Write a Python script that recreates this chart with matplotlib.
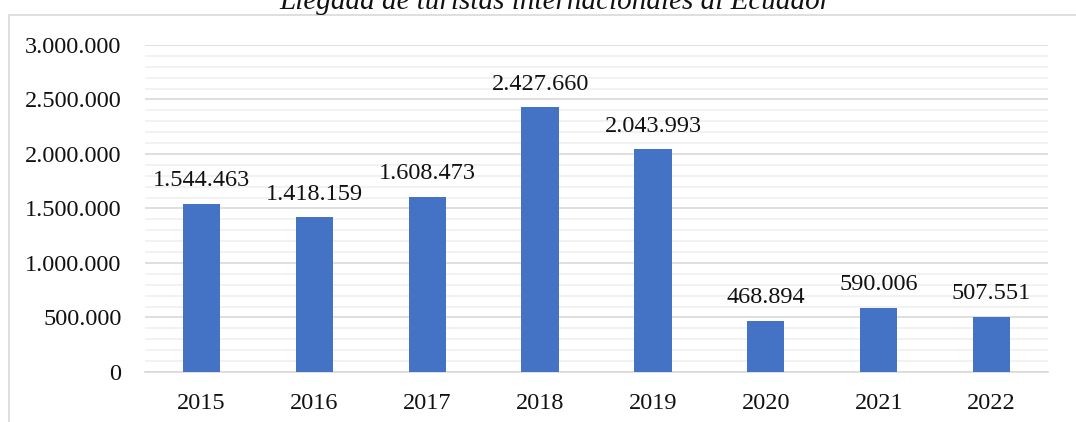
import matplotlib.pyplot as plt
from matplotlib.patches import Rectangle
from matplotlib.ticker import FuncFormatter, MultipleLocator

plt.rcParams['font.family'] = ['Liberation Serif', 'DejaVu Serif']

years = ['2015', '2016', '2017', '2018', '2019', '2020', '2021', '2022']
arrivals = [1544463, 1418159, 1608473, 2427660, 2043993, 468894, 590006, 507551]
title = 'Llegada de turistas internacionales al Ecuador'


def dot_thousands(v, pos=None):
    return f'{int(round(v)):,}'.replace(',', '.')


fig = plt.figure(figsize=(10.76, 4.22), dpi=100)
ax = fig.add_axes([0.1348, 0.1185, 0.8392, 0.7749])

x_pos = range(len(years))
ax.bar(x_pos, arrivals, width=0.33, color='#4472C4', zorder=3)
for x, v in zip(x_pos, arrivals):
    ax.annotate(dot_thousands(v), (x, v), xytext=(0, 9), textcoords='offset points',
                ha='center', va='bottom', fontsize=17.5, color='#111111')

ax.set_xlim(-0.5, len(years) - 0.5)
ax.set_ylim(0, 3000000)
ax.yaxis.set_major_locator(MultipleLocator(500000))
ax.yaxis.set_minor_locator(MultipleLocator(100000))
ax.yaxis.set_major_formatter(FuncFormatter(dot_thousands))
ax.set_xticks(list(x_pos))
ax.set_xticklabels(years)

ax.grid(axis='y', which='major', color='#d9d9d9', linewidth=1.2, zorder=0)
ax.grid(axis='y', which='minor', color='#f0f0f0', linewidth=1.2, zorder=0)
for side in ['top', 'right', 'left']:
    ax.spines[side].set_visible(False)
ax.spines['bottom'].set_color('#d9d9d9')
ax.spines['bottom'].set_linewidth(1.2)
ax.tick_params(axis='both', which='both', length=0, labelsize=17.5, colors='#111111')
ax.tick_params(axis='y', pad=17)
ax.tick_params(axis='x', pad=15)

# outer chart border
fig.patches.append(Rectangle((9 / 1076, -0.1), 1.2, 1 - 15 / 422 + 0.1,
                             transform=fig.transFigure, fill=False,
                             edgecolor='#d9d9d9', linewidth=1.2))

fig.text(555 / 1076, 1 - 2 / 422, title, ha='center', va='center',
         fontsize=21, style='italic', color='#111111')

fig.savefig('out.png', dpi=100)
